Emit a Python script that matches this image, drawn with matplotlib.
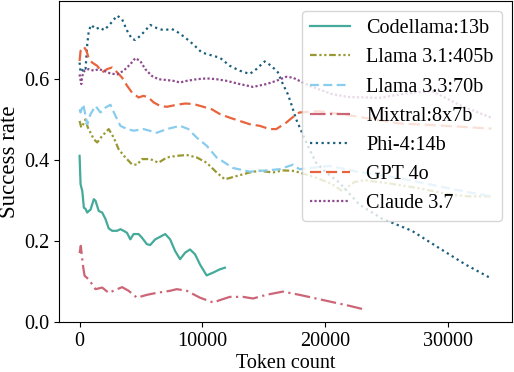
import matplotlib
matplotlib.use("Agg")
import matplotlib.pyplot as plt

plt.rcParams['font.family'] = ['Liberation Serif', 'DejaVu Serif']
plt.rcParams['mathtext.fontset'] = 'stix'

labels = ["Codellama:13b", "Llama 3.1:405b", "Llama 3.3:70b", "Mixtral:8x7b",
          "Phi-4:14b", "GPT 4o", "Claude 3.7"]

codellama_x = [0, 80, 220, 350, 490, 620, 750, 890, 1160, 1300, 1560, 1840, 2110, 2370, 2650,
               3050, 3320, 3590, 3860, 4130, 4400, 4800, 5080, 5480, 5750, 6160, 6420, 6970,
               7370, 7780, 8180, 8590, 8990, 9400, 9800, 10340, 10880, 11420, 11830]
codellama_y = [0.41, 0.34, 0.323, 0.282, 0.279, 0.27, 0.274, 0.277, 0.303, 0.299, 0.274, 0.27,
               0.254, 0.231, 0.225, 0.225, 0.229, 0.225, 0.22, 0.204, 0.217, 0.217, 0.208, 0.192,
               0.19, 0.204, 0.208, 0.217, 0.204, 0.175, 0.155, 0.171, 0.179, 0.167, 0.142, 0.115,
               0.122, 0.13, 0.134]

llama31_x = [0, 138, 300, 486, 672, 891, 1158, 1434, 1839, 2373, 2778, 3183, 3726, 4269, 4674,
             5079, 5751, 6423, 7104, 7914, 8724, 9534, 10344, 11154, 11826, 12774, 13851, 14661,
             15741, 16548, 17358, 17901, 19254, 20574, 21384, 22356, 23166, 25191, 27621, 30051,
             31671, 33534]
llama31_y = [0.496, 0.48, 0.488, 0.5, 0.48, 0.467, 0.451, 0.443, 0.459, 0.476, 0.455, 0.426,
             0.406, 0.389, 0.388, 0.402, 0.402, 0.393, 0.406, 0.41, 0.412, 0.406, 0.393, 0.369,
             0.352, 0.36, 0.369, 0.373, 0.369, 0.374, 0.373, 0.369, 0.356, 0.34, 0.323, 0.345,
             0.35, 0.342, 0.33, 0.315, 0.31, 0.31]

llama33_x = [0, 81, 300, 486, 624, 891, 1296, 1701, 2106, 2511, 2916, 3321, 3864, 4398, 5208,
             6294, 7104, 8181, 8853, 9534, 10344, 11154, 12498, 13851, 15204, 16281, 17358,
             17901, 20331, 22761, 26001, 29241, 31671, 33534]
llama33_y = [0.525, 0.517, 0.537, 0.509, 0.488, 0.513, 0.533, 0.517, 0.529, 0.536, 0.509, 0.484,
             0.476, 0.472, 0.476, 0.467, 0.476, 0.484, 0.476, 0.455, 0.435, 0.406, 0.38, 0.371,
             0.374, 0.377, 0.388, 0.377, 0.385, 0.37, 0.355, 0.335, 0.32, 0.31]

mixtral_x = [0, 100, 200, 300, 410, 750, 1300, 1840, 2370, 3460, 3990, 4670, 5480, 6290, 7370,
             7910, 8720, 9800, 10880, 11420, 12230, 13310, 14120, 15200, 16550, 17900, 19250,
             20590, 21950, 23170]
mixtral_y = [0.17, 0.188, 0.16, 0.134, 0.114, 0.105, 0.081, 0.085, 0.072, 0.086, 0.077, 0.06,
             0.067, 0.072, 0.077, 0.081, 0.077, 0.06, 0.048, 0.054, 0.062, 0.062, 0.058, 0.067,
             0.075, 0.067, 0.058, 0.049, 0.04, 0.031]

phi_x = [0, 81, 219, 348, 486, 624, 753, 948, 1296, 1701, 1968, 2373, 2649, 3054, 3459, 3864,
         4269, 4536, 4941, 5346, 5751, 6294, 6828, 7509, 8043, 8586, 9258, 9939, 10611, 11421,
         12231, 13041, 13851, 14394, 15066, 15609, 16143, 16548, 16953, 17229, 17634, 18168,
         18711, 19254, 20064, 21141, 22761, 24624, 27054, 29241, 31404, 33534]
phi_y = [0.64, 0.616, 0.62, 0.628, 0.625, 0.685, 0.719, 0.733, 0.723, 0.727, 0.72, 0.731, 0.741,
         0.756, 0.747, 0.719, 0.698, 0.696, 0.706, 0.719, 0.733, 0.725, 0.72, 0.723, 0.714,
         0.702, 0.685, 0.665, 0.659, 0.652, 0.632, 0.62, 0.612, 0.624, 0.643, 0.632, 0.616,
         0.587, 0.562, 0.538, 0.5, 0.463, 0.426, 0.393, 0.369, 0.344, 0.29, 0.255, 0.225,
         0.183, 0.142, 0.107]

gpt_x = [0, 81, 348, 567, 753, 1029, 1434, 1839, 2244, 2649, 3054, 3459, 3864, 4269, 4803, 5208,
         5613, 6018, 6561, 7104, 7914, 8586, 9258, 10068, 10749, 11421, 12231, 13041, 13851,
         14661, 15471, 16014, 16824, 17496, 17901, 19521, 21951, 26001, 29241, 33534]
gpt_y = [0.644, 0.669, 0.679, 0.669, 0.649, 0.64, 0.632, 0.616, 0.624, 0.628, 0.616, 0.603,
         0.583, 0.566, 0.554, 0.558, 0.554, 0.542, 0.533, 0.531, 0.536, 0.539, 0.538, 0.531,
         0.525, 0.513, 0.504, 0.496, 0.488, 0.484, 0.476, 0.476, 0.492, 0.509, 0.517, 0.52,
         0.51, 0.49, 0.485, 0.477]

claude_x = [0, 138, 219, 405, 753, 1158, 1563, 1968, 2511, 3054, 3588, 4131, 4536, 4941, 5346,
            5889, 6423, 7104, 7638, 8181, 8724, 9534, 10344, 11154, 11964, 13041, 14118, 15204,
            16014, 16824, 17358, 18711, 20574, 21951, 24381, 26811, 28674, 31104, 33534]
claude_y = [0.611, 0.587, 0.607, 0.62, 0.624, 0.62, 0.624, 0.62, 0.613, 0.611, 0.62, 0.636,
            0.651, 0.644, 0.624, 0.607, 0.599, 0.597, 0.595, 0.591, 0.595, 0.599, 0.601, 0.599,
            0.595, 0.587, 0.58, 0.587, 0.595, 0.605, 0.603, 0.583, 0.562, 0.555, 0.553, 0.565,
            0.57, 0.533, 0.504]

series = [(codellama_x, codellama_y), (llama31_x, llama31_y), (llama33_x, llama33_y),
          (mixtral_x, mixtral_y), (phi_x, phi_y), (gpt_x, gpt_y), (claude_x, claude_y)]
colors = ["#44AA99", "#999933", "#88CCEE", "#CC6677", "#1B5F7D", "#E8643C", "#8E4C8E"]
styles = ["-", (0, (3, 1.2, 1, 1.2, 1, 1.2)), (0, (4, 2)), (0, (7, 2, 1, 2)),
          (0, (1, 1.6)), (0, (5, 2.2)), (0, (1, 1))]

fig = plt.figure(figsize=(5.14, 3.72), dpi=100)
ax = fig.add_axes([59 / 514, 1 - 322 / 372, 453 / 514, 321 / 372])
for (x, y), lab, c, ls in zip(series, labels, colors, styles):
    ax.plot(x, y, color=c, linestyle=ls, linewidth=1.6, label=lab)

ax.set_ylim(0, 0.792)
ax.set_xlim(-1675, 35200)
ax.set_xticks([0, 10000, 20000, 30000])
ax.set_yticks([0.0, 0.2, 0.4, 0.6])
ax.tick_params(labelsize=14.5)
ax.set_xlabel("Token count", fontsize=14.5, labelpad=2)
ax.set_ylabel("Success rate", fontsize=16.5, labelpad=3)
ax.legend(loc="upper right", fontsize=14.5)
fig.savefig("out.png", dpi=100)
